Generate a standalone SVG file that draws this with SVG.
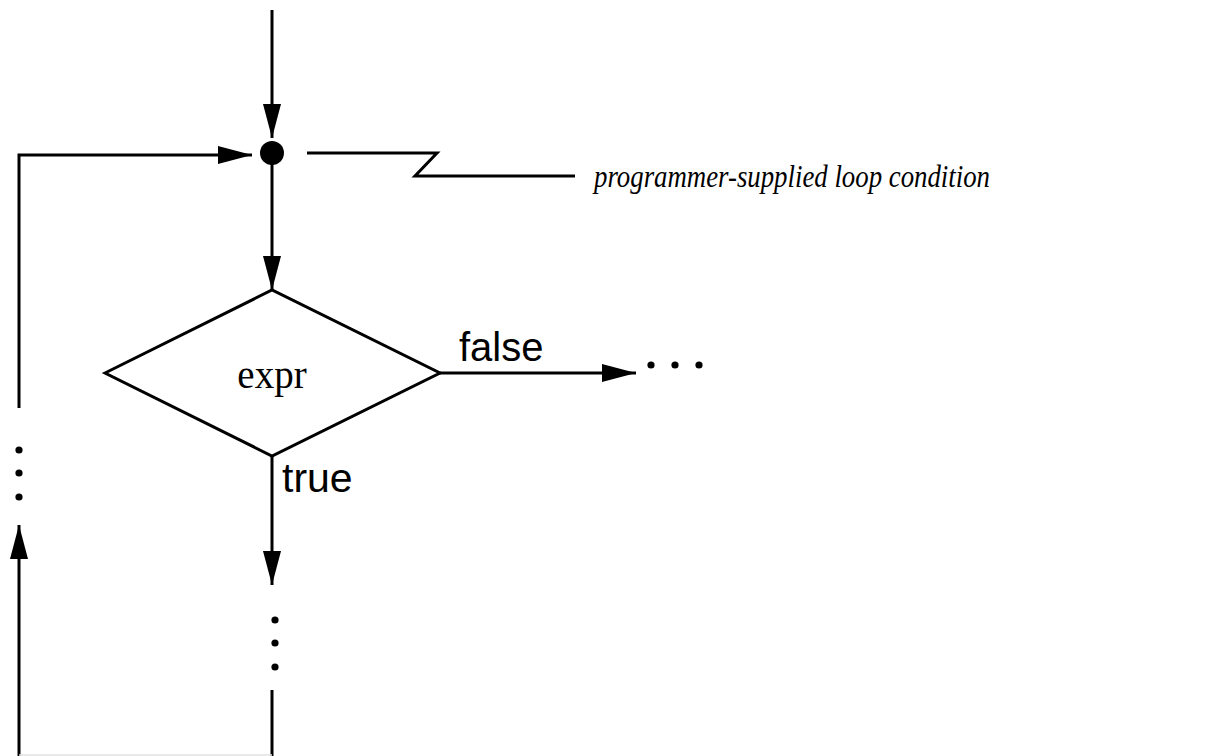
<svg xmlns="http://www.w3.org/2000/svg" width="1207" height="756" viewBox="0 0 1207 756">
  <style>
    .ln { stroke: #000; stroke-width: 3; fill: none; }
    .sans { font-family: "Liberation Sans", Arial, sans-serif; fill: #000; }
    .serif { font-family: "Liberation Serif", "Times New Roman", serif; fill: #000; }
    .dot { fill: #000; }
  </style>
  <defs>
    <marker id="arrow" markerUnits="userSpaceOnUse" markerWidth="36" markerHeight="20" viewBox="0 0 36 20" refX="34" refY="10" orient="auto">
      <path d="M0,1 L34,10 L0,19 Z" fill="#000"/>
    </marker>
  </defs>
  <rect width="1207" height="756" fill="#fff"/>

  <g id="connectors">
    <!-- entry into the junction -->
    <line class="ln" x1="272" y1="10" x2="272" y2="138" marker-end="url(#arrow)"/>
    <!-- junction to decision -->
    <line class="ln" x1="272" y1="160" x2="272" y2="290" marker-end="url(#arrow)"/>
    <!-- false branch -->
    <line class="ln" x1="440" y1="373" x2="636" y2="373" marker-end="url(#arrow)"/>
    <!-- true branch -->
    <line class="ln" x1="272" y1="456" x2="272" y2="585" marker-end="url(#arrow)"/>
    <!-- loop body continues down -->
    <line class="ln" x1="272" y1="690" x2="272" y2="756"/>
    <!-- loop back up the left side -->
    <line class="ln" x1="19" y1="756" x2="19" y2="525" marker-end="url(#arrow)"/>
    <polyline class="ln" points="19,408 19,155 252,155" marker-end="url(#arrow)"/>
    <line x1="19" y1="755" x2="272" y2="755" stroke="#e2e2e2" stroke-width="1.5"/>
  </g>

  <g id="junction">
    <circle class="dot" cx="272" cy="153" r="12"/>
  </g>

  <g id="decision">
    <polygon class="ln" points="105,373 272,290 440,373 272,456"/>
    <text class="serif" x="272" y="388" font-size="39" text-anchor="middle">expr</text>
  </g>

  <g id="labels">
    <text class="sans" x="459" y="361" font-size="40">false</text>
    <text class="sans" x="282" y="492" font-size="41">true</text>
  </g>

  <g id="ellipses">
    <circle class="dot" cx="651" cy="365" r="3.6"/>
    <circle class="dot" cx="675" cy="365" r="3.6"/>
    <circle class="dot" cx="699" cy="365" r="3.6"/>
    <circle class="dot" cx="275" cy="620" r="3.6"/>
    <circle class="dot" cx="275" cy="643" r="3.6"/>
    <circle class="dot" cx="275" cy="667" r="3.6"/>
    <circle class="dot" cx="19" cy="450" r="3.6"/>
    <circle class="dot" cx="19" cy="473" r="3.6"/>
    <circle class="dot" cx="19" cy="497" r="3.6"/>
  </g>

  <g id="callout">
    <polyline class="ln" points="307,153 437,153 415,176 575,176"/>
    <text class="serif" x="594" y="187" font-size="31" font-style="italic" textLength="396" lengthAdjust="spacingAndGlyphs">programmer-supplied loop condition</text>
  </g>
</svg>
